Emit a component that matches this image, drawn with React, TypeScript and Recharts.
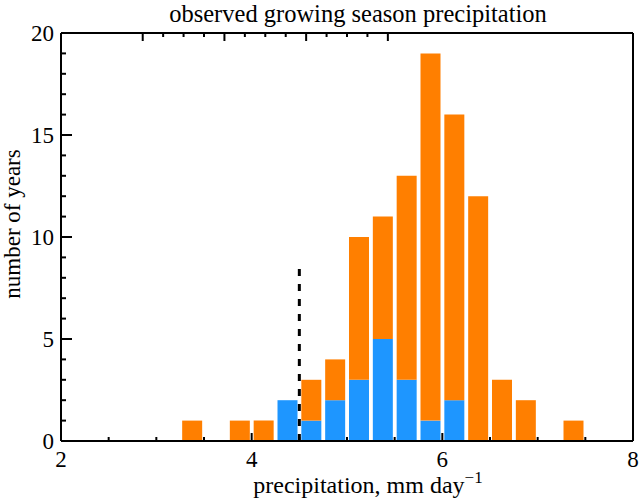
import React from 'react'
import { ComposedChart, Bar, XAxis, YAxis, ReferenceLine } from 'recharts'

// bin centres (mm/day) and counts
const binCenters = [3.375, 3.875, 4.125, 4.375, 4.625, 4.875, 5.125, 5.375, 5.625, 5.875, 6.125, 6.375, 6.625, 6.875, 7.375]
const allYears = [1, 1, 1, 2, 3, 4, 10, 11, 13, 19, 16, 12, 3, 2, 1]
const droughtYears = [0, 0, 0, 2, 1, 2, 3, 5, 3, 1, 2, 0, 0, 0, 0]

const xMajorTicks = [2, 4, 6, 8]
const xAllTicks = [2, 2.5, 3, 3.5, 4, 4.5, 5, 5.5, 6, 6.5, 7, 7.5, 8]
const yMajorTicks = [0, 5, 10, 15, 20]
const yAllTicks = [0, 1, 2, 3, 4, 5, 6, 7, 8, 9, 10, 11, 12, 13, 14, 15, 16, 17, 18, 19, 20]

const threshold = 4.5
const thresholdTop = 8.75

const TITLE = 'observed growing season precipitation'
const X_LABEL = 'precipitation, mm day'
const Y_LABEL = 'number of years'

const ORANGE = '#FF7F00'
const BLUE = '#1E96FF'
const serif = '"Liberation Serif", "Times New Roman", serif'

const data = binCenters.map((x, i) => ({
  x,
  blue: droughtYears[i],
  orange: allYears[i] - droughtYears[i],
}))

const axisLine = { stroke: '#000', strokeWidth: 2 }

// inward tick marks, labels only on the major ticks of the bottom/left axes
const makeTick = (side: 'bottom' | 'top' | 'left' | 'right', majors: number[], labels: boolean) => (props: any) => {
  const { x, y, payload } = props
  const major = majors.includes(payload.value)
  const horizontal = side === 'bottom' || side === 'top'
  const len = horizontal ? (major ? 8 : 4) : (major ? 11 : 5)
  const dir = side === 'bottom' || side === 'right' ? -1 : 1
  return (
    <g>
      {horizontal
        ? <line x1={x} x2={x} y1={y} y2={y + dir * len} stroke="#000" strokeWidth={2} />
        : <line x1={x} x2={x + dir * len} y1={y} y2={y} stroke="#000" strokeWidth={2} />}
      {labels && major && side === 'bottom' && (
        <text x={x} y={y + 26} textAnchor="middle" fontFamily={serif} fontSize={23} fill="#000">{payload.value}</text>
      )}
      {labels && major && side === 'left' && (
        <text x={x - 7} y={y + 8} textAnchor="end" fontFamily={serif} fontSize={23} fill="#000">{payload.value}</text>
      )}
    </g>
  )
}

const TitleLabel = ({ viewBox }: any) => (
  <text x={viewBox.x + viewBox.width / 2 + 11} y={viewBox.y - 10} textAnchor="middle" fontFamily={serif} fontSize={24.5} fill="#000">
    {TITLE}
  </text>
)

const XLabel = ({ viewBox }: any) => (
  <text x={viewBox.x + viewBox.width / 2 + 21} y={viewBox.y + 52} textAnchor="middle" fontFamily={serif} fontSize={24} fill="#000">
    {X_LABEL}
    <tspan dy={-10} fontSize={17}>−1</tspan>
  </text>
)

const YLabel = ({ viewBox }: any) => {
  const cx = viewBox.x + viewBox.width - 49
  const cy = viewBox.y + viewBox.height / 2 - 13
  return (
    <text x={cx} y={cy} transform={`rotate(-90 ${cx} ${cy})`} textAnchor="middle" dominantBaseline="central" fontFamily={serif} fontSize={23} fill="#000">
      {Y_LABEL}
    </text>
  )
}

export default function App() {
  return (
    <div style={{ position: 'absolute', left: 0, top: 0, width: 641, height: 500, background: '#fff' }}>
      <ComposedChart width={641} height={500} data={data} margin={{ top: 32, right: 7, bottom: 58, left: 60 }}>
        <XAxis xAxisId="x" dataKey="x" type="number" domain={[2, 8]} ticks={xAllTicks} interval={0}
          height={1} tickSize={0} tickMargin={0} tickLine={false} axisLine={axisLine}
          tick={makeTick('bottom', xMajorTicks, true)} label={{ content: XLabel }} />
        <XAxis xAxisId="xTop" orientation="top" type="number" domain={[2, 8]} ticks={xAllTicks} interval={0}
          height={1} tickSize={0} tickMargin={0} tickLine={false} axisLine={axisLine}
          tick={makeTick('top', xMajorTicks, false)} label={{ content: TitleLabel }} />

        <YAxis yAxisId="y" type="number" domain={[0, 20]} ticks={yAllTicks} interval={0}
          width={1} tickSize={0} tickMargin={0} tickLine={false} axisLine={axisLine}
          tick={makeTick('left', yMajorTicks, true)} label={{ content: YLabel }} />
        <YAxis yAxisId="yRight" orientation="right" type="number" domain={[0, 20]} ticks={yAllTicks} interval={0}
          width={1} tickSize={0} tickMargin={0} tickLine={false} axisLine={axisLine}
          tick={makeTick('right', yMajorTicks, false)} />

        <Bar xAxisId="x" yAxisId="y" dataKey="blue" stackId="a" fill={BLUE} barSize={20} isAnimationActive={false} />
        <Bar xAxisId="x" yAxisId="y" dataKey="orange" stackId="a" fill={ORANGE} barSize={20} isAnimationActive={false} />

        <ReferenceLine xAxisId="x" yAxisId="y"
          segment={[{ x: threshold, y: 0 }, { x: threshold, y: thresholdTop }]}
          stroke="#000" strokeWidth={3} strokeDasharray="7 8" />
      </ComposedChart>
    </div>
  )
}
